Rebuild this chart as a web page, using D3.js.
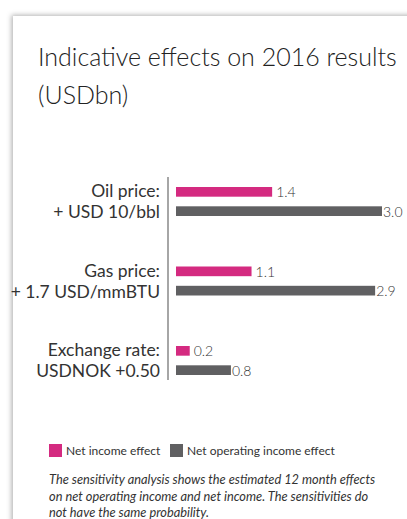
<!DOCTYPE html>
<html>
<head>
<meta charset="utf-8">
<script src="https://cdn.jsdelivr.net/npm/d3@7"></script>
<style>
  body { margin: 0; background: #fff; }
  svg { display: block; }
</style>
</head>
<body>
<div id="chart"></div>
<script>
// data
const categories = ['oil', 'gas', 'fx']
const labelLines = [
  ['Oil price:', '+ USD 10/bbl'],
  ['Gas price:', '+ 1.7 USD/mmBTU'],
  ['Exchange rate:', 'USDNOK +0.50']
]
const netIncome = [1.4, 1.1, 0.2]
const netOperating = [3.0, 2.9, 0.8]
const seriesNames = ['Net income effect', 'Net operating income effect']
const colors = ['#d42a80', '#606062']

const width = 407
const height = 519

const svg = d3
  .select('#chart')
  .append('svg')
  .attr('width', width)
  .attr('height', height)

// card with soft shadow on the left and top
const defs = svg.append('defs')
const filter = defs
  .append('filter')
  .attr('id', 'shadow')
  .attr('x', '-10%')
  .attr('y', '-10%')
  .attr('width', '120%')
  .attr('height', '120%')
filter
  .append('feDropShadow')
  .attr('dx', -1.5)
  .attr('dy', -1)
  .attr('stdDeviation', 2.5)
  .attr('flood-color', '#000')
  .attr('flood-opacity', 0.3)

svg
  .append('rect')
  .attr('x', 13)
  .attr('y', 16)
  .attr('width', 420)
  .attr('height', 540)
  .attr('fill', '#fff')
  .attr('filter', 'url(#shadow)')

// title
const title = svg
  .append('text')
  .attr('x', 38)
  .attr('y', 66)
  .attr('font-family', 'Lato')
  .attr('font-weight', 300)
  .attr('font-size', 25)
  .attr('fill', '#222')
title.append('tspan').attr('x', 38).text('Indicative effects on 2016 results')
title.append('tspan').attr('x', 38).attr('dy', 38).text('(USDbn)')

// chart area
const margin = { top: 177, left: 168, right: 24, bottom: 139 }
const innerW = width - margin.left - margin.right
const innerH = height - margin.top - margin.bottom

const g = svg
  .append('g')
  .attr('transform', 'translate(' + margin.left + ',' + margin.top + ')')

const xScale = d3
  .scaleLinear()
  .domain([0, 3.0])
  .range([8, 8 + 206])

// group tops at 10, 89.5, 169 relative to the axis top
const yScale = d3
  .scaleBand()
  .domain(categories)
  .range([10, 10 + 79.5 * 3])
  .paddingInner(0)
  .paddingOuter(0)

const subScale = d3
  .scaleBand()
  .domain([0, 1])
  .range([0, 28])
  .paddingInner(0.55)

// axis line
g.append('line')
  .attr('x1', 0)
  .attr('x2', 0)
  .attr('y1', 0)
  .attr('y2', innerH)
  .attr('stroke', '#888')
  .attr('stroke-width', 1.5)

const groups = g
  .selectAll('.group')
  .data(categories)
  .enter()
  .append('g')
  .attr('class', 'group')
  .attr('transform', d => 'translate(0,' + yScale(d) + ')')

const seriesValues = [netIncome, netOperating]

seriesValues.forEach((values, s) => {
  groups
    .append('rect')
    .attr('x', xScale(0))
    .attr('y', subScale(s))
    .attr('width', (d, i) => xScale(values[i]) - xScale(0))
    .attr('height', subScale.bandwidth() + 1)
    .attr('fill', colors[s])

  groups
    .append('text')
    .attr('x', (d, i) => xScale(values[i]) + (s === 0 ? 4 : 1))
    .attr('y', subScale(s) + subScale.bandwidth() / 2 + 1)
    .attr('dy', '0.35em')
    .attr('font-family', 'Lato')
    .attr('font-weight', 300)
    .attr('font-size', 14)
    .attr('fill', '#333')
    .text((d, i) => values[i].toFixed(1))
})

// category labels
groups
  .append('text')
  .attr('x', -8)
  .attr('text-anchor', 'end')
  .attr('font-family', 'Lato')
  .attr('font-size', 17.5)
  .attr('fill', '#333')
  .each(function(d, i) {
    const t = d3.select(this)
    t.append('tspan').attr('x', -8).attr('y', 10).text(labelLines[i][0])
    t.append('tspan').attr('x', -8).attr('y', 31).text(labelLines[i][1])
  })

// legend
const legend = svg
  .append('g')
  .attr('transform', 'translate(49,444)')

const legendX = [0, 121]
seriesNames.forEach((name, i) => {
  legend
    .append('rect')
    .attr('x', legendX[i])
    .attr('y', 0)
    .attr('width', 13)
    .attr('height', 13)
    .attr('fill', colors[i])
  legend
    .append('text')
    .attr('x', legendX[i] + 17)
    .attr('y', 11)
    .attr('font-family', 'Lato')
    .attr('font-size', 12)
    .attr('fill', '#333')
    .text(name)
})

// footnote
const note = [
  'The sensitivity analysis shows the estimated 12 month effects',
  'on net operating income and net income. The sensitivities do',
  'not have the same probability.'
]
svg
  .append('g')
  .selectAll('text')
  .data(note)
  .enter()
  .append('text')
  .attr('x', 49)
  .attr('y', (d, i) => 484 + i * 16.5)
  .attr('font-family', 'Lato')
  .attr('font-style', 'italic')
  .attr('font-size', 12.8)
  .attr('fill', '#333')
  .text(d => d)
</script>
</body>
</html>
